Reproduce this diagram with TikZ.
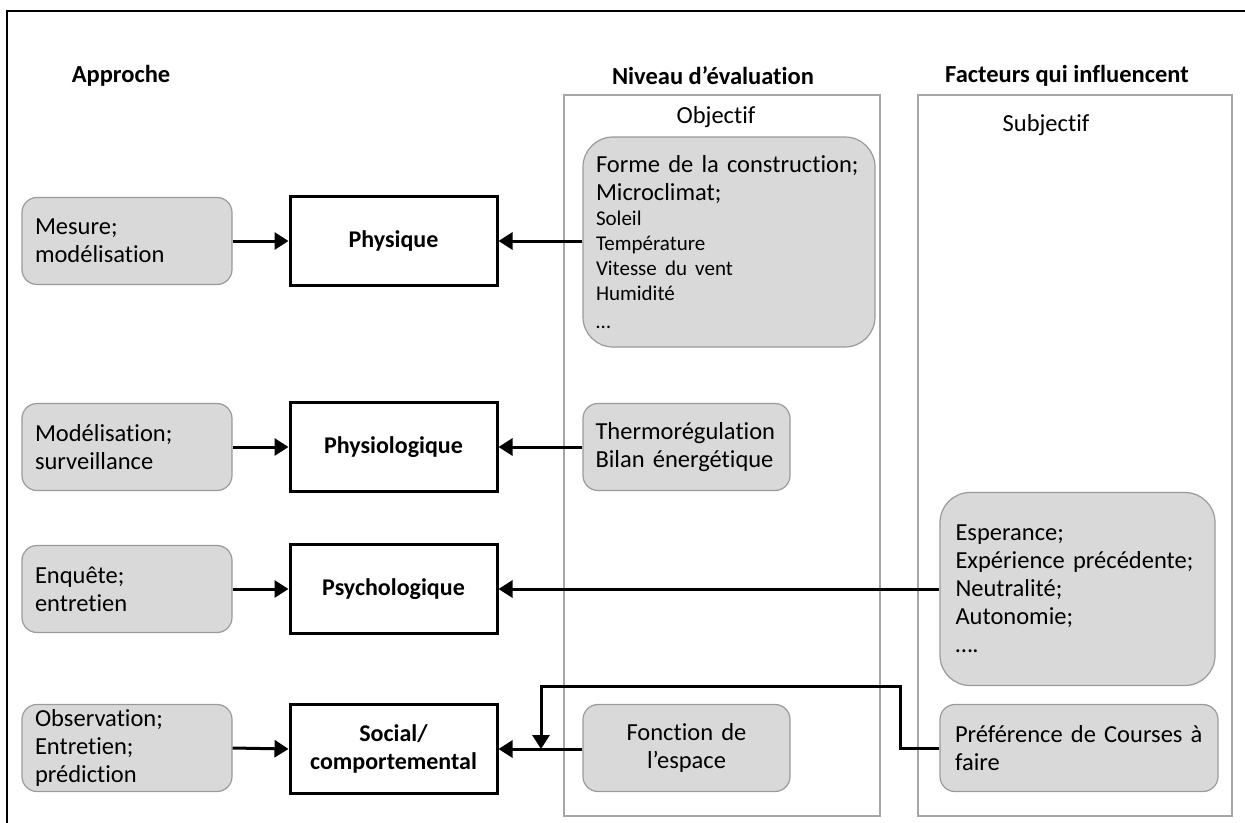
\documentclass[tikz,border=0pt]{standalone}
\usepackage{fontspec}
\setmainfont{Carlito}[Ligatures=NoCommon]
\usetikzlibrary{arrows.meta}
\definecolor{boxfill}{HTML}{D9D9D9}
\definecolor{boxline}{HTML}{9A9A9A}
\definecolor{panelline}{HTML}{A6A6A6}
\begin{document}
\begin{tikzpicture}[x=1pt,y=-1pt,
  every node/.style={font=\fontsize{24.5}{28}\selectfont},
  graybox/.style={draw=boxline,line width=1.2pt,fill=boxfill,rounded corners=15pt,
    minimum width=210pt,minimum height=87pt,inner sep=0pt,text width=184pt,align=left},
  levelbox/.style={draw=black,line width=3pt,minimum width=207pt,minimum height=89pt,
    inner sep=0pt,align=center,font=\fontsize{24}{28}\selectfont\bfseries},
  header/.style={font=\fontsize{24.5}{28}\selectfont\bfseries},
  panel/.style={draw=panelline,line width=1.5pt},
  arr/.style={line width=3pt,-{Triangle[length=14pt,width=17pt]}}]
\useasboundingbox (0,0) rectangle (1245,822);
\fill[white] (0,0) rectangle (1245,822);

% frame
\draw[line width=2.5pt] (7,830) -- (7,11) -- (1250,11);

% column headers
\node[header] (hA) at (121,76) {Approche};
\node[header] (hN) at (713,76) {Niveau d’évaluation};
\node[header] (hF) at (1067,76) {Facteurs qui influencent};

% panels
\draw[panel] (564,95) rectangle (880,816);
\draw[panel] (918,95) rectangle (1232,816);
\node (obj) at (716,117) {Objectif};
\node (subj) at (1046,125) {Subjectif};

% approaches
\node[graybox] (mes) at (127,241) {Mesure;\\modélisation};
\node[graybox] (mod) at (127,447) {Modélisation;\\surveillance};
\node[graybox] (enq) at (127,589) {Enquête;\\entretien};
\node[graybox] (obs) at (127,748) {Observation;\\Entretien;\\prédiction};

% levels
\node[levelbox] (phy) at (393.5,241) {Physique};
\node[levelbox] (phs) at (393.5,447) {Physiologique};
\node[levelbox] (psy) at (393.5,589) {Psychologique};
\node[levelbox] (soc) at (393.5,749) {Social/\\comportemental};

% objective factors
\node[graybox,rounded corners=30pt,minimum width=292pt,minimum height=210pt,text width=266pt]
  (forme) at (729,242) {Forme de la construction;\\Microclimat;\\
  {\fontsize{21}{25}\selectfont Soleil\\Température\\Vitesse du vent\\Humidité\\…}};
\node[graybox,minimum width=207pt,text width=182pt] (therm) at (686.5,447)
  {Thermorégulation\\Bilan énergétique};
\node[graybox,minimum width=207pt,text width=182pt,align=center] (fonc) at (686.5,748)
  {Fonction de\\l’espace};

% subjective factors
\node[graybox,rounded corners=30pt,minimum width=275pt,minimum height=193pt,text width=244pt]
  (esp) at (1077.5,589) {Esperance;\\Expérience précédente;\\Neutralité;\\Autonomie;\\….};
\node[graybox,minimum width=278pt,text width=248pt] (pref) at (1079,748)
  {Préférence de Courses à\\faire};

% connectors
\draw[arr] (mes.east) -- (phy.west);
\draw[arr] (mod.east) -- (phs.west);
\draw[arr] (enq.east) -- (psy.west);
\draw[arr] (obs.east) -- (soc.west);
\draw[arr] (forme.west |- phy.east) -- (phy.east);
\draw[arr] (therm.west) -- (phs.east);
\draw[arr] (esp.west |- psy.east) -- (psy.east);
\draw[arr] (fonc.west |- soc.east) -- (soc.east);
\coordinate (k1) at (900,686);
\coordinate (k2) at (541,686);
\draw[arr] (pref.west) -| (k1) -- (k2) -- (k2 |- soc.east);
\end{tikzpicture}
\end{document}
